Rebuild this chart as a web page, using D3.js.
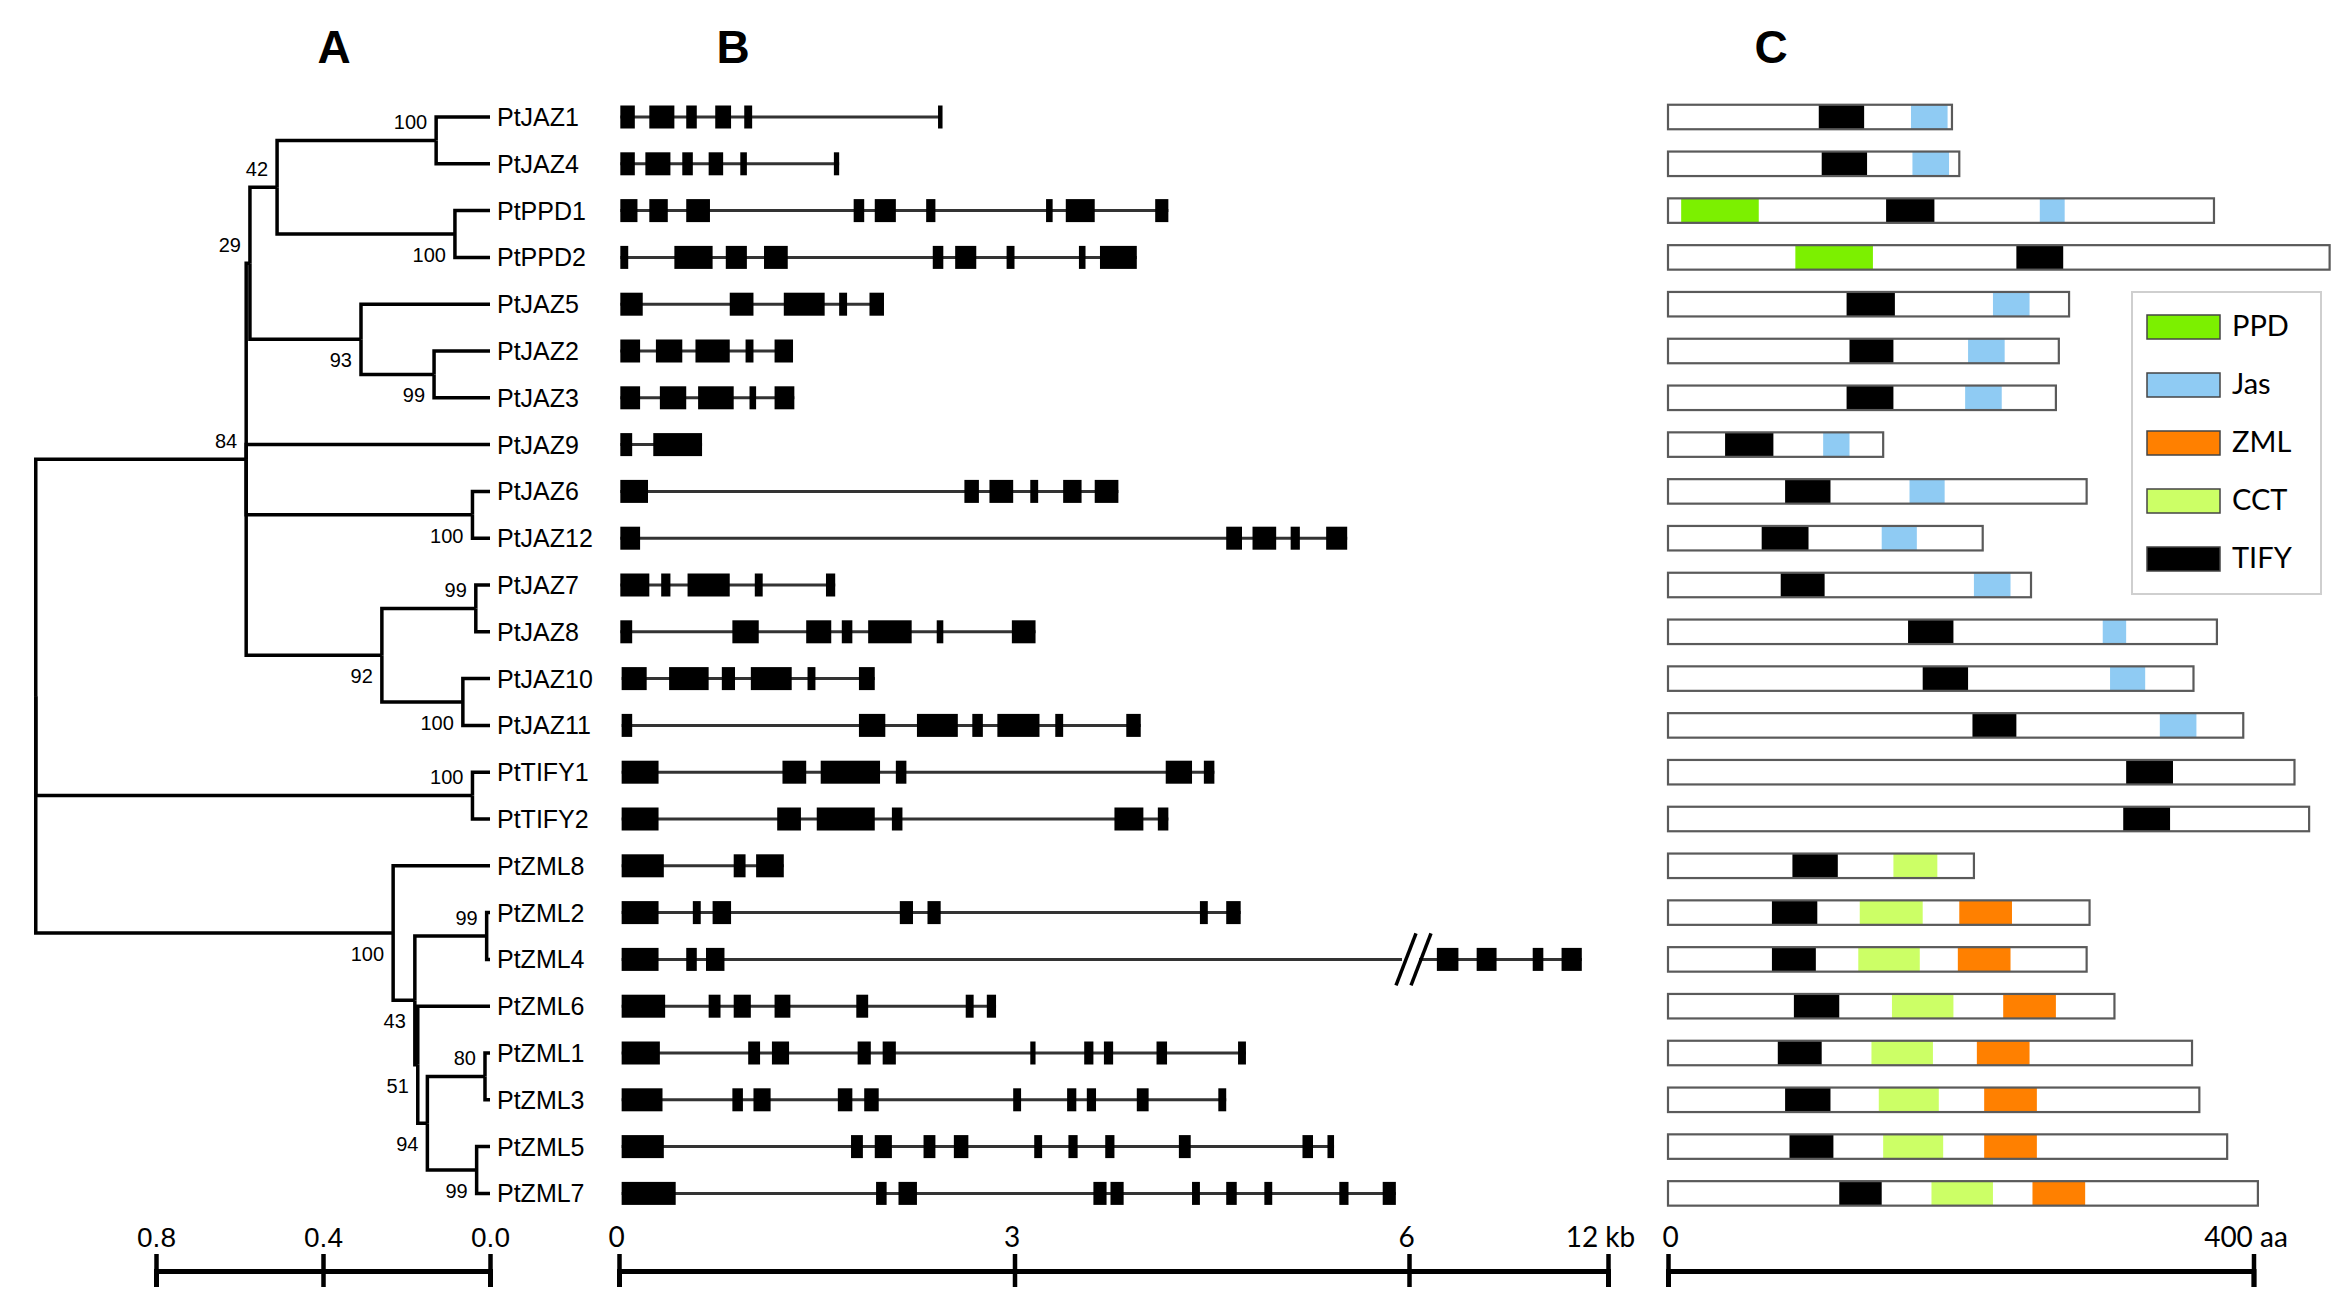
<!DOCTYPE html>
<html>
<head>
<meta charset="utf-8">
<script src="https://cdn.jsdelivr.net/npm/d3@7"></script>
<style>
  body { margin: 0; background: #fff; }
  svg { display: block; }
</style>
</head>
<body>
<script>
// genes, top to bottom
var genes = ["PtJAZ1","PtJAZ4","PtPPD1","PtPPD2","PtJAZ5","PtJAZ2","PtJAZ3","PtJAZ9",
  "PtJAZ6","PtJAZ12","PtJAZ7","PtJAZ8","PtJAZ10","PtJAZ11","PtTIFY1","PtTIFY2",
  "PtZML8","PtZML2","PtZML4","PtZML6","PtZML1","PtZML3","PtZML5","PtZML7"];

// tree: [id, parent, node height (distance from tips), bootstrap]
var treeNodes = [
  ["root", null, 1.088, null],
  ["n84", "root", 0.584, 84],
  ["n29", "n84", 0.575, 29],
  ["n42", "n29", 0.51, 42],
  ["n14", "n42", 0.129, 100],
  ["PtJAZ1", "n14", 0, null], ["PtJAZ4", "n14", 0, null],
  ["nPPD", "n42", 0.084, 100],
  ["PtPPD1", "nPPD", 0, null], ["PtPPD2", "nPPD", 0, null],
  ["n93", "n29", 0.309, 93],
  ["PtJAZ5", "n93", 0, null],
  ["n23", "n93", 0.134, 99],
  ["PtJAZ2", "n23", 0, null], ["PtJAZ3", "n23", 0, null],
  ["PtJAZ9", "n84", 0, null],
  ["n612", "n84", 0.042, 100],
  ["PtJAZ6", "n612", 0, null], ["PtJAZ12", "n612", 0, null],
  ["n92", "n84", 0.259, 92],
  ["n78", "n92", 0.034, 99],
  ["PtJAZ7", "n78", 0, null], ["PtJAZ8", "n78", 0, null],
  ["n1011", "n92", 0.065, 100],
  ["PtJAZ10", "n1011", 0, null], ["PtJAZ11", "n1011", 0, null],
  ["nTIFY", "root", 0.042, 100],
  ["PtTIFY1", "nTIFY", 0, null], ["PtTIFY2", "nTIFY", 0, null],
  ["nZML", "root", 0.232, 100],
  ["PtZML8", "nZML", 0, null],
  ["n43", "nZML", 0.18, 43],
  ["n24", "n43", 0.008, 99],
  ["PtZML2", "n24", 0, null], ["PtZML4", "n24", 0, null],
  ["n51", "n43", 0.173, 51],
  ["PtZML6", "n51", 0, null],
  ["n94", "n51", 0.150, 94],
  ["n13", "n94", 0.012, 80],
  ["PtZML1", "n13", 0, null], ["PtZML3", "n13", 0, null],
  ["n57", "n94", 0.032, 99],
  ["PtZML5", "n57", 0, null], ["PtZML7", "n57", 0, null]
];
var bootBelow = ["nPPD","n93","n23","n612","n92","n1011","nZML","n43","n51","n94","n57"];

// exons in kb, same order as genes
var exonsKb = [
  [[0.01,0.12],[0.23,0.42],[0.51,0.59],[0.73,0.85],[0.95,1.01],[2.42,2.45]],
  [[0.01,0.12],[0.20,0.39],[0.48,0.56],[0.68,0.79],[0.92,0.97],[1.63,1.67]],
  [[0.01,0.14],[0.23,0.37],[0.51,0.69],[1.78,1.86],[1.94,2.10],[2.33,2.40],[3.24,3.29],[3.39,3.61],[4.07,4.17]],
  [[0.01,0.07],[0.42,0.71],[0.81,0.97],[1.10,1.28],[2.38,2.46],[2.55,2.71],[2.94,3.00],[3.49,3.54],[3.65,3.93]],
  [[0.01,0.18],[0.84,1.02],[1.25,1.56],[1.67,1.73],[1.90,2.01]],
  [[0.01,0.16],[0.28,0.48],[0.58,0.84],[0.96,1.02],[1.18,1.32]],
  [[0.01,0.16],[0.31,0.51],[0.60,0.87],[0.99,1.04],[1.18,1.33]],
  [[0.01,0.10],[0.26,0.63]],
  [[0.01,0.22],[2.62,2.73],[2.81,2.99],[3.12,3.18],[3.37,3.51],[3.61,3.79]],
  [[0.01,0.16],[4.61,4.73],[4.81,4.99],[5.10,5.17],[5.37,5.53]],
  [[0.01,0.23],[0.32,0.39],[0.52,0.84],[1.03,1.09],[1.57,1.64]],
  [[0.01,0.10],[0.86,1.06],[1.42,1.61],[1.69,1.77],[1.89,2.22],[2.41,2.46],[2.98,3.16]],
  [[0.02,0.21],[0.38,0.68],[0.78,0.88],[1.00,1.31],[1.43,1.49],[1.82,1.94]],
  [[0.02,0.10],[1.82,2.02],[2.26,2.57],[2.68,2.76],[2.87,3.19],[3.31,3.37],[3.85,3.96]],
  [[0.02,0.30],[1.24,1.42],[1.53,1.98],[2.10,2.18],[4.15,4.35],[4.44,4.52]],
  [[0.02,0.30],[1.20,1.38],[1.50,1.94],[2.07,2.15],[3.76,3.98],[4.09,4.17]],
  [[0.02,0.34],[0.87,0.96],[1.04,1.25]],
  [[0.02,0.30],[0.56,0.62],[0.71,0.85],[2.13,2.23],[2.34,2.44],[4.41,4.47],[4.61,4.72]],
  [[0.02,0.30],[0.51,0.59],[0.66,0.80],[6.84,7.49],[8.04,8.64],[9.73,10.05],[10.60,11.21]],
  [[0.02,0.35],[0.68,0.77],[0.87,1.00],[1.18,1.30],[1.80,1.89],[2.63,2.69],[2.79,2.86]],
  [[0.02,0.31],[0.98,1.07],[1.16,1.29],[1.81,1.91],[2.00,2.10],[3.12,3.16],[3.53,3.60],[3.68,3.75],[4.08,4.16],[4.70,4.76]],
  [[0.02,0.33],[0.86,0.94],[1.02,1.15],[1.66,1.77],[1.86,1.97],[2.99,3.05],[3.40,3.47],[3.55,3.62],[3.93,4.02],[4.55,4.61]],
  [[0.02,0.34],[1.76,1.85],[1.94,2.07],[2.31,2.40],[2.54,2.65],[3.15,3.21],[3.41,3.48],[3.69,3.76],[4.25,4.34],[5.19,5.27],[5.38,5.43]],
  [[0.02,0.43],[1.95,2.03],[2.12,2.26],[3.60,3.70],[3.73,3.83],[4.35,4.41],[4.61,4.69],[4.90,4.96],[5.47,5.54],[5.80,5.90]]
];
var brokenGene = "PtZML4";   // long intron drawn with a break at 6 kb

// protein length (aa), same order as genes
var proteinLength = [194,199,373,452,274,267,265,147,286,215,248,375,359,393,428,438,
  209,288,286,305,358,363,382,403];

// [protein, domain, start aa, end aa]
var domains = [
  ["PtJAZ1","TIFY",103,134],["PtJAZ1","Jas",166,191],
  ["PtJAZ4","TIFY",105,136],["PtJAZ4","Jas",167,192],
  ["PtPPD1","PPD",9,62],["PtPPD1","TIFY",149,182],["PtPPD1","Jas",254,271],
  ["PtPPD2","PPD",87,140],["PtPPD2","TIFY",238,270],
  ["PtJAZ5","TIFY",122,155],["PtJAZ5","Jas",222,247],
  ["PtJAZ2","TIFY",124,154],["PtJAZ2","Jas",205,230],
  ["PtJAZ3","TIFY",122,154],["PtJAZ3","Jas",203,228],
  ["PtJAZ9","TIFY",39,72],["PtJAZ9","Jas",106,124],
  ["PtJAZ6","TIFY",80,111],["PtJAZ6","Jas",165,189],
  ["PtJAZ12","TIFY",64,96],["PtJAZ12","Jas",146,170],
  ["PtJAZ7","TIFY",77,107],["PtJAZ7","Jas",209,234],
  ["PtJAZ8","TIFY",164,195],["PtJAZ8","Jas",297,313],
  ["PtJAZ10","TIFY",174,205],["PtJAZ10","Jas",302,326],
  ["PtJAZ11","TIFY",208,238],["PtJAZ11","Jas",336,361],
  ["PtTIFY1","TIFY",313,345],
  ["PtTIFY2","TIFY",311,343],
  ["PtZML8","TIFY",85,116],["PtZML8","CCT",154,184],
  ["PtZML2","TIFY",71,102],["PtZML2","CCT",131,174],["PtZML2","ZML",199,235],
  ["PtZML4","TIFY",71,101],["PtZML4","CCT",130,172],["PtZML4","ZML",198,234],
  ["PtZML6","TIFY",86,117],["PtZML6","CCT",153,195],["PtZML6","ZML",229,265],
  ["PtZML1","TIFY",75,105],["PtZML1","CCT",139,181],["PtZML1","ZML",211,247],
  ["PtZML3","TIFY",80,111],["PtZML3","CCT",144,185],["PtZML3","ZML",216,252],
  ["PtZML5","TIFY",83,113],["PtZML5","CCT",147,188],["PtZML5","ZML",216,252],
  ["PtZML7","TIFY",117,146],["PtZML7","CCT",180,222],["PtZML7","ZML",249,285]
];
var domainTypes = ["PPD","Jas","ZML","CCT","TIFY"];
var domainColors = ["#7cf000","#8fcbf3","#ff8000","#ccff66","#000000"];

var distTicks = [0.8, 0.4, 0.0];
var kbTicks = [0, 3, 6, 12];
var aaTicks = [0, 400];

var W = 2346, H = 1304;
var axisY = 1271;
var arial = "'Liberation Sans', Arial, Helvetica, sans-serif";
var calibri = "Lato, 'Open Sans', sans-serif";

var svg = d3.select("body").append("svg").attr("width", W).attr("height", H);
svg.append("rect").attr("width", W).attr("height", H).attr("fill", "#fff");

var y = d3.scalePoint().domain(genes).range([117, 1193.4]);
var xd = d3.scaleLinear().domain([0.8, 0]).range([156, 490]);
var xk = d3.scaleLinear().domain(kbTicks).range([619, 1014.5, 1409, 1608]);
var xa = d3.scaleLinear().domain([0, 400]).range([1668, 2253.5]);

// panel letters
[["A", 334], ["B", 733], ["C", 1771]].forEach(function(p) {
  svg.append("text").attr("x", p[1]).attr("y", 63).attr("text-anchor", "middle")
    .attr("font-family", arial).attr("font-weight", "bold").attr("font-size", 46)
    .text(p[0]);
});

// ---------- A: tree ----------
var root = d3.stratify()
  .id(function(d) { return d[0]; })
  .parentId(function(d) { return d[1]; })
  (treeNodes);

root.eachAfter(function(n) {
  n.px = xd(n.data[2]);
  if (!n.children) n.py = y(n.id);
  else n.py = (d3.min(n.children, function(c) { return c.py; }) + d3.max(n.children, function(c) { return c.py; })) / 2;
});

var gA = svg.append("g");
gA.selectAll("path.link").data(root.descendants().filter(function(n) { return n.parent; }))
  .enter().append("path")
  .attr("class", "link")
  .attr("fill", "none").attr("stroke", "#000").attr("stroke-width", 3.5)
  .attr("stroke-linejoin", "miter")
  .attr("d", function(n) {
    return "M" + n.parent.px + "," + n.parent.py + "V" + n.py + "H" + n.px;
  });

gA.selectAll("text.boot").data(root.descendants().filter(function(n) { return n.data[3] != null; }))
  .enter().append("text")
  .attr("class", "boot")
  .attr("x", function(n) { return n.px - 9; })
  .attr("y", function(n) { return n.py + (bootBelow.indexOf(n.id) >= 0 ? 21 : -18.5) + 7; })
  .attr("text-anchor", "end")
  .attr("font-family", arial).attr("font-size", 20)
  .text(function(n) { return n.data[3]; });

gA.selectAll("text.gene").data(genes).enter().append("text")
  .attr("class", "gene")
  .attr("x", 497).attr("y", function(d) { return y(d) + 9; })
  .attr("font-family", arial).attr("font-size", 25)
  .text(function(d) { return d; });

// ---------- B: gene structure ----------
var gB = svg.append("g");
var exonH = 23;
genes.forEach(function(g, i) {
  var ex = exonsKb[i];
  var yy = y(g);
  var x0 = xk(ex[0][0]), x1 = xk(ex[ex.length - 1][1]);
  var row = gB.append("g");
  if (g === brokenGene) {
    var xb = xk(6);
    row.append("line").attr("x1", x0).attr("x2", xb - 7).attr("y1", yy).attr("y2", yy)
      .attr("stroke", "#333").attr("stroke-width", 3);
    row.append("line").attr("x1", xb + 10).attr("x2", x1).attr("y1", yy).attr("y2", yy)
      .attr("stroke", "#333").attr("stroke-width", 3);
    [-3, 12].forEach(function(o) {
      row.append("line")
        .attr("x1", xb + o - 10).attr("y1", yy + 26)
        .attr("x2", xb + o + 10).attr("y2", yy - 26)
        .attr("stroke", "#000").attr("stroke-width", 3.5);
    });
  } else {
    row.append("line").attr("x1", x0).attr("x2", x1).attr("y1", yy).attr("y2", yy)
      .attr("stroke", "#333").attr("stroke-width", 3);
  }
  row.selectAll("rect").data(ex).enter().append("rect")
    .attr("x", function(e) { return xk(e[0]); })
    .attr("width", function(e) { return Math.max(4.5, xk(e[1]) - xk(e[0])); })
    .attr("y", yy - exonH / 2).attr("height", exonH)
    .attr("fill", "#000");
});

// ---------- C: protein domains ----------
var gC = svg.append("g");
var barH = 24.5;
var color = d3.scaleOrdinal().domain(domainTypes).range(domainColors);

gC.selectAll("rect.bg").data(genes).enter().append("rect")
  .attr("class", "bg")
  .attr("x", xa(0)).attr("y", function(d) { return y(d) - barH / 2; })
  .attr("width", function(d, i) { return xa(proteinLength[i]) - xa(0); })
  .attr("height", barH).attr("fill", "#fff");

gC.selectAll("rect.dom").data(domains).enter().append("rect")
  .attr("class", "dom")
  .attr("x", function(d) { return xa(d[2]); })
  .attr("width", function(d) { return xa(d[3]) - xa(d[2]); })
  .attr("y", function(d) { return y(d[0]) - barH / 2; })
  .attr("height", barH)
  .attr("fill", function(d) { return color(d[1]); });

gC.selectAll("rect.outline").data(genes).enter().append("rect")
  .attr("class", "outline")
  .attr("x", xa(0)).attr("y", function(d) { return y(d) - barH / 2; })
  .attr("width", function(d, i) { return xa(proteinLength[i]) - xa(0); })
  .attr("height", barH).attr("fill", "none")
  .attr("stroke", "#5a5a5a").attr("stroke-width", 2.2);

// legend
var leg = svg.append("g");
leg.append("rect").attr("x", 2132).attr("y", 292).attr("width", 189).attr("height", 302)
  .attr("fill", "#fff").attr("stroke", "#cfcfcf").attr("stroke-width", 2);
var legItem = leg.selectAll("g.item").data(domainTypes).enter().append("g")
  .attr("class", "item")
  .attr("transform", function(d, i) { return "translate(2147," + (327 + i * 58) + ")"; });
legItem.append("rect").attr("x", 0).attr("y", -12).attr("width", 73).attr("height", 24)
  .attr("fill", function(d) { return color(d); })
  .attr("stroke", "#444").attr("stroke-width", 1.5);
legItem.append("text").attr("x", 85).attr("y", 9)
  .attr("font-family", calibri).attr("font-size", 29)
  .text(function(d) { return d; });

// ---------- scale bars ----------
function scaleBar(scale, ticks, fmt, font, size) {
  var ax = d3.axisBottom(scale).tickValues(ticks).tickFormat(fmt).tickSizeOuter(0).tickSize(16);
  var g = svg.append("g").attr("transform", "translate(0," + axisY + ")").call(ax);
  g.attr("font-family", font).attr("font-size", size);
  g.select(".domain").attr("stroke", "#000").attr("stroke-width", 5);
  g.selectAll(".tick line").attr("y1", -17).attr("y2", 16)
    .attr("stroke", "#000").attr("stroke-width", 4.5);
  g.selectAll(".tick text").attr("y", -24).attr("dy", null).attr("fill", "#000");
  return g;
}

scaleBar(xd, distTicks, d3.format(".1f"), arial, 28);
scaleBar(xk, kbTicks, function(d) { return d === 12 ? "12 kb" : d; }, calibri, 28)
  .selectAll(".tick text").attr("dx", function(d) { return d === 12 ? -8 : -3; });
scaleBar(xa, aaTicks, function(d) { return d === 400 ? "400 aa" : d; }, calibri, 28)
  .selectAll(".tick text").attr("dx", function(d) { return d === 400 ? -8 : 2; });
</script>
</body>
</html>
